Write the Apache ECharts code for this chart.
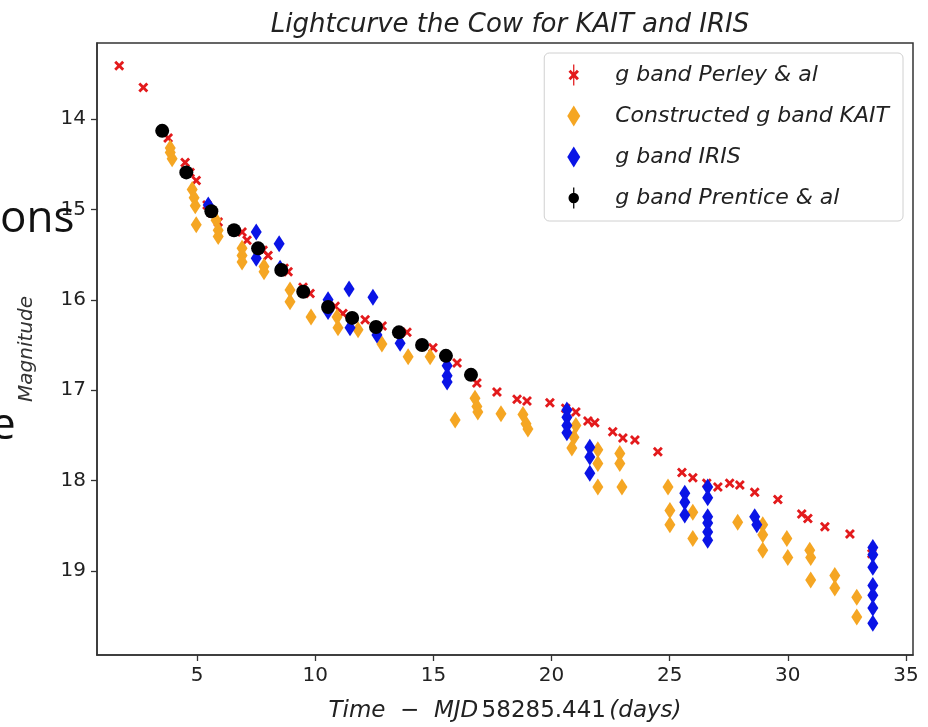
<!DOCTYPE html>
<html>
<head>
<meta charset="utf-8">
<script src="https://cdn.jsdelivr.net/npm/echarts@6/dist/echarts.min.js"></script>
<style>
  html, body { margin: 0; padding: 0; background: #fff; }
  #chart { width: 928px; height: 727px; }
</style>
</head>
<body>
<div id="chart"></div>
<script>
// g band, Perley & al (days since MJD 58285.441, magnitude)
const perleyDays = [1.70, 2.72, 3.56, 3.77, 4.49, 4.70, 4.96, 5.42, 5.63, 5.89, 6.90, 7.11, 7.79, 8.00,
  8.68, 8.85, 9.48, 9.78, 10.84, 11.17, 12.11, 12.83, 13.88, 14.98, 16.00, 16.84, 17.69, 18.54, 18.96,
  19.93, 20.60, 21.03, 21.54, 21.83, 22.59, 23.02, 23.53, 24.50, 25.52, 25.98, 26.57, 27.04, 27.54,
  27.97, 28.60, 29.58, 30.59, 30.85, 31.57, 32.63, 33.56];
const perleyMag = [13.41, 13.65, 14.13, 14.21, 14.48, 14.59, 14.68, 14.95, 15.04, 15.14, 15.25, 15.34, 15.45, 15.51,
  15.65, 15.69, 15.86, 15.93, 16.07, 16.15, 16.22, 16.29, 16.36, 16.53, 16.70, 16.92, 17.02, 17.10, 17.12,
  17.14, 17.20, 17.24, 17.34, 17.36, 17.46, 17.53, 17.55, 17.68, 17.91, 17.97, 18.03, 18.07, 18.03,
  18.05, 18.13, 18.21, 18.37, 18.42, 18.51, 18.59, 18.81];

// Constructed g band, KAIT
const kaitDays = [3.86, 3.86, 3.94, 4.79, 4.87, 4.92, 4.96, 5.80, 5.89, 5.89, 6.90, 6.90, 6.90, 7.83, 7.83,
  8.93, 8.93, 9.82, 10.92, 10.96, 11.81, 12.82, 13.93, 14.86, 15.92, 16.76, 16.84, 16.88, 17.86, 18.79,
  18.92, 19.00, 20.86, 20.95, 21.03, 21.96, 21.96, 21.96, 22.89, 22.89, 22.98, 24.93, 25.01, 25.01,
  25.98, 25.98, 27.88, 28.94, 28.94, 28.94, 29.96, 30.00, 30.93, 30.97, 30.97, 31.99, 31.99, 32.92, 32.92];
const kaitMag = [14.32, 14.37, 14.44, 14.78, 14.87, 14.96, 15.17, 15.12, 15.23, 15.30, 15.43, 15.51, 15.58, 15.63, 15.69,
  15.89, 16.02, 16.19, 16.19, 16.31, 16.33, 16.49, 16.63, 16.63, 17.33, 17.09, 17.18, 17.24, 17.26, 17.27,
  17.37, 17.43, 17.64, 17.52, 17.39, 17.66, 17.81, 18.07, 17.70, 17.81, 18.07, 18.07, 18.33, 18.49,
  18.35, 18.64, 18.46, 18.49, 18.60, 18.77, 18.64, 18.85, 18.77, 18.85, 19.10, 19.05, 19.19, 19.29, 19.51];

// g band, IRIS
const irisDays = [5.47, 7.50, 7.50, 8.47, 8.51, 10.54, 10.54, 11.43, 11.47, 12.44, 12.61, 13.59, 15.58, 15.58, 15.58,
  20.65, 20.65, 20.65, 20.65, 21.62, 21.62, 21.62, 25.64, 25.64, 25.64, 26.61, 26.61, 26.61, 26.61, 26.61, 26.61,
  28.60, 28.69, 33.60, 33.60, 33.60, 33.60, 33.60, 33.60, 33.60];
const irisMag = [14.95, 15.25, 15.54, 15.38, 15.65, 16.00, 16.13, 15.88, 16.31, 15.97, 16.39, 16.48, 16.73, 16.84, 16.91,
  17.22, 17.30, 17.39, 17.47, 17.63, 17.74, 17.92, 18.14, 18.24, 18.38, 18.07, 18.19, 18.40, 18.47, 18.57, 18.66,
  18.40, 18.49, 18.74, 18.82, 18.96, 19.16, 19.27, 19.41, 19.58];

// g band, Prentice & al
const prenticeDays = [3.52, 4.54, 5.60, 6.56, 7.58, 8.56, 9.49, 10.54, 11.56, 12.57, 13.54, 14.52, 15.53, 16.59];
const prenticeMag = [14.13, 14.59, 15.02, 15.23, 15.43, 15.67, 15.91, 16.08, 16.20, 16.30, 16.36, 16.50, 16.62, 16.83];

const seriesNames = ['g band Perley & al', 'Constructed g band KAIT', 'g band IRIS', 'g band Prentice & al'];
const xTicks = [5, 10, 15, 20, 25, 30, 35];
const yTicks = [14, 15, 16, 17, 18, 19];
const xRange = [0.76, 35.3];
const yRange = [13.158, 19.93];

const pairs = (xs, ys) => xs.map((x, i) => [x, ys[i]]);

// marker shapes: filled "X", and error-bar variants for the legend keys
const xMark = 'path://M0,2 L2,0 L5,3 L8,0 L10,2 L7,5 L10,8 L8,10 L5,7 L2,10 L0,8 L3,5 Z';
const xMarkBar = 'path://M4.4,0 L5.6,0 L5.6,20 L4.4,20 Z M0,7 L2,5 L5,8 L8,5 L10,7 L7,10 L10,13 L8,15 L5,12 L2,15 L0,13 L3,10 Z';
const dotBar = 'path://M4.4,0 L5.6,0 L5.6,20 L4.4,20 Z M0,10 A5,5 0 1,1 10,10 A5,5 0 1,1 0,10 Z';

const chart = echarts.init(document.getElementById('chart'), null, { renderer: 'canvas' });

const tickFont = { fontFamily: 'DejaVu Sans', fontSize: 20, color: '#222' };

chart.setOption({
  animation: false,
  backgroundColor: '#fff',
  title: {
    text: 'Lightcurve the Cow for KAIT and IRIS',
    left: 505, top: 7, textAlign: 'center',
    textStyle: { fontFamily: 'DejaVu Sans', fontStyle: 'italic', fontWeight: 'normal', fontSize: 26, color: '#222' }
  },
  grid: {
    left: 97, right: 15, top: 43, bottom: 72,
    outerBoundsMode: 'none', containLabel: false,
    show: true, borderColor: '#333', borderWidth: 1.5, backgroundColor: '#fff'
  },
  legend: {
    orient: 'vertical', right: 25, top: 53,
    itemWidth: 13, itemHeight: 21, itemGap: 19,
    padding: [11, 14, 12, 23],
    backgroundColor: '#fff', borderColor: '#d0d0d0', borderWidth: 1, borderRadius: 5,
    textStyle: { fontFamily: 'DejaVu Sans', fontStyle: 'italic', fontSize: 22, color: '#222', padding: [0, 0, 0, 30] },
    data: [
      { name: seriesNames[0], icon: xMarkBar },
      { name: seriesNames[1], icon: 'diamond' },
      { name: seriesNames[2], icon: 'diamond' },
      { name: seriesNames[3], icon: dotBar }
    ]
  },
  xAxis: {
    type: 'value', min: xRange[0], max: xRange[1],
    name: '{i|Time  \u2212  MJD} {n|58285.441} {i|(days)}',
    nameLocation: 'middle', nameGap: 45,
    nameTextStyle: {
      rich: {
        i: { fontFamily: 'DejaVu Sans', fontStyle: 'italic', fontSize: 23, color: '#222' },
        n: { fontFamily: 'DejaVu Sans', fontSize: 23, color: '#222' }
      }
    },
    splitLine: { show: false },
    axisLine: { show: true, onZero: false, lineStyle: { color: '#333', width: 1.5 } },
    axisTick: { show: true, length: 6, customValues: xTicks, lineStyle: { color: '#333', width: 1.3 } },
    axisLabel: { customValues: xTicks, margin: 11, ...tickFont }
  },
  yAxis: {
    type: 'value', inverse: true, min: yRange[0], max: yRange[1],
    name: 'Magnitude', nameLocation: 'middle', nameGap: 60, nameRotate: 90,
    nameTextStyle: { fontFamily: 'DejaVu Sans', fontStyle: 'italic', fontSize: 20, color: '#333' },
    splitLine: { show: false },
    axisLine: { show: true, onZero: false, lineStyle: { color: '#333', width: 1.5 } },
    axisTick: { show: true, length: 6, customValues: yTicks, lineStyle: { color: '#333', width: 1.3 } },
    axisLabel: { customValues: yTicks, margin: 11, ...tickFont }
  },
  series: [
    {
      name: seriesNames[0], type: 'scatter', symbol: xMark, symbolSize: 10,
      itemStyle: { color: '#e31a1c', opacity: 1 }, data: pairs(perleyDays, perleyMag)
    },
    {
      name: seriesNames[1], type: 'scatter', symbol: 'diamond', symbolSize: [11, 17],
      itemStyle: { color: '#f5a623', opacity: 1 }, data: pairs(kaitDays, kaitMag)
    },
    {
      name: seriesNames[2], type: 'scatter', symbol: 'diamond', symbolSize: [11, 17],
      itemStyle: { color: '#0a14e6', opacity: 1 }, data: pairs(irisDays, irisMag)
    },
    {
      name: seriesNames[3], type: 'scatter', symbol: 'circle', symbolSize: 14,
      itemStyle: { color: '#000', opacity: 1 }, data: pairs(prenticeDays, prenticeMag)
    }
  ],
  graphic: [
    { type: 'text', left: 0, top: 197, z: 100,
      style: { text: 'ons', fontFamily: 'Open Sans', fontSize: 44, fill: '#111' } },
    { type: 'text', left: -9, top: 404, z: 100,
      style: { text: 'e', fontFamily: 'Open Sans', fontSize: 44, fill: '#111' } }
  ]
});
</script>
</body>
</html>
